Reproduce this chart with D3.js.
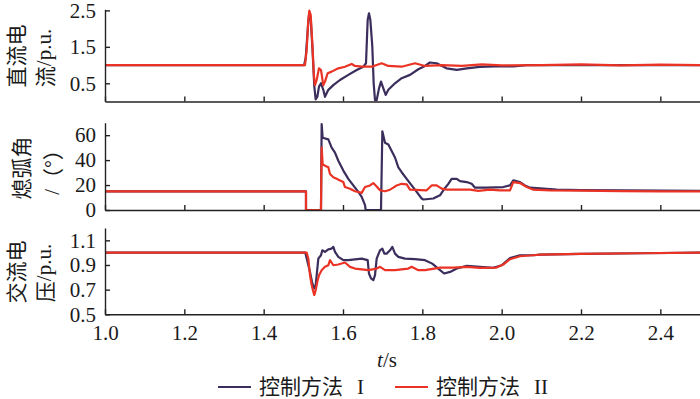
<!DOCTYPE html>
<html>
<head>
<meta charset="utf-8">
<script src="https://cdn.jsdelivr.net/npm/d3@7"></script>
<style>
body { margin: 0; background: #fff; }
svg text { font-family: "Liberation Serif", "Times New Roman", serif; fill: #1a1a1a; }
.cjk { font-family: "Noto Sans CJK SC", sans-serif; }
</style>
</head>
<body>
<svg id="chart" width="700" height="399"></svg>
<script>
// time ticks
var timeTicks = [1.0, 1.2, 1.4, 1.6, 1.8, 2.0, 2.2, 2.4];

// DC current (p.u.)
var dcCurrentI = [[1.0,1.0],[1.502,1.0],[1.506,1.2],[1.5126,2.2],[1.5151,2.42],[1.5185,2.3],[1.5227,1.51],[1.5277,0.41],[1.5311,0.06],[1.5353,0.13],[1.5395,0.41],[1.5445,0.50],[1.5504,0.32],[1.5546,0.13],[1.5630,0.32],[1.5756,0.45],[1.5924,0.59],[1.6134,0.73],[1.6345,0.865],[1.6513,0.955],[1.6580,1.05],[1.6622,2.24],[1.6655,2.42],[1.6689,2.24],[1.6739,1.51],[1.6773,0.50],[1.6807,0.04],[1.6849,0.04],[1.6908,0.36],[1.6958,0.545],[1.7017,0.36],[1.7076,0.18],[1.7143,0.32],[1.7311,0.50],[1.7479,0.64],[1.7689,0.73],[1.7899,0.885],[1.8067,0.975],[1.819,1.07],[1.836,1.05],[1.861,0.91],[1.887,0.87],[1.912,0.91],[1.945,0.95],[2.0,0.97],[2.03,0.96],[2.063,1.0],[2.2,1.0],[2.5,1.0]];
var dcCurrentII = [[1.0,1.0],[1.5042,1.0],[1.5084,1.415],[1.5126,2.24],[1.5151,2.495],[1.5185,2.376],[1.5227,1.60],[1.5269,0.68],[1.5294,0.45],[1.5336,0.59],[1.5395,0.91],[1.5445,0.865],[1.5504,0.45],[1.5546,0.545],[1.5613,0.775],[1.5714,0.82],[1.5882,0.91],[1.6050,0.955],[1.6218,1.03],[1.6303,0.975],[1.6471,0.955],[1.6723,0.955],[1.6975,1.05],[1.7143,0.975],[1.7479,0.955],[1.7815,1.05],[1.8067,0.975],[1.85,1.0],[1.9,0.98],[1.95,1.02],[2.0,0.99],[2.1,1.0],[2.2,1.02],[2.3,0.99],[2.4,1.01],[2.5,1.0]];

// extinction angle (deg)
var gammaI = [[1.0,15],[1.5067,15],[1.5067,0],[1.5445,0],[1.5462,68.9],[1.5487,57.9],[1.5630,56.6],[1.5714,50],[1.5798,46],[1.5882,39.5],[1.6008,31.6],[1.6134,25],[1.6260,19.7],[1.6387,14.5],[1.6471,10.5],[1.6555,3.9],[1.6572,0],[1.6958,0],[1.6992,63.1],[1.7059,53.9],[1.7143,52.6],[1.7227,47.4],[1.7311,42.1],[1.7395,34.2],[1.7479,30.3],[1.7605,25],[1.7731,19.7],[1.7857,14.5],[1.7983,9.2],[1.8025,8.4],[1.8277,9.2],[1.8445,11.8],[1.8529,15.8],[1.8655,21.0],[1.8739,25.0],[1.8866,25.0],[1.8950,23.1],[1.9118,22.4],[1.9244,21.0],[1.9328,17.9],[1.9622,17.9],[2.0042,18.4],[2.0210,19.7],[2.0294,23.7],[2.0462,22.4],[2.0588,19.7],[2.0714,17.9],[2.1050,17.1],[2.1387,16.3],[2.2,16.0],[2.3,15.8],[2.4,15.5],[2.5,15.3]];
var gammaII = [[1.0,15],[1.5067,15],[1.5067,0],[1.5445,0],[1.5462,50],[1.5487,36.8],[1.5546,35.5],[1.5630,34.2],[1.5672,28.9],[1.5756,26.3],[1.5840,25.0],[1.5924,23.7],[1.6008,22.4],[1.6050,18.4],[1.6176,17.1],[1.6303,15.0],[1.6471,13.7],[1.6555,18.4],[1.6681,19.7],[1.6765,21.6],[1.6849,18.9],[1.6933,15.8],[1.7059,15.0],[1.7185,16.3],[1.7269,17.9],[1.7353,19.7],[1.7479,21.0],[1.7605,20.5],[1.7689,16.3],[1.8109,15.8],[1.8235,19.7],[1.8361,19.7],[1.8487,17.1],[1.8613,16.3],[1.9202,16.3],[1.9412,15.3],[1.9706,16.3],[1.9958,15.8],[2.0210,15.8],[2.0294,22.4],[2.0462,21.6],[2.0630,18.4],[2.0798,16.3],[2.1218,15.8],[2.2,15.5],[2.3,15.2],[2.4,15.0],[2.5,15.0]];

// AC voltage (p.u.)
var acVoltageI = [[1.0,1.0],[1.505,1.0],[1.5168,0.844],[1.5227,0.75],[1.5277,0.71],[1.5311,0.737],[1.5345,0.844],[1.5378,0.952],[1.5445,0.979],[1.5479,1.019],[1.5546,1.006],[1.5630,1.027],[1.5714,1.033],[1.5756,1.047],[1.5798,1.006],[1.5882,0.966],[1.6008,0.939],[1.6134,0.939],[1.6471,0.952],[1.6622,0.939],[1.6655,0.831],[1.6706,0.791],[1.6765,0.777],[1.6807,0.817],[1.6849,0.952],[1.6933,1.019],[1.6992,1.033],[1.7042,0.992],[1.7101,0.992],[1.7185,1.019],[1.7244,1.047],[1.7311,0.992],[1.7395,0.966],[1.7563,0.952],[1.7815,0.947],[1.8067,0.939],[1.825,0.911],[1.84,0.871],[1.855,0.831],[1.870,0.844],[1.887,0.871],[1.912,0.893],[1.945,0.885],[1.979,0.877],[2.0,0.898],[2.021,0.957],[2.046,0.979],[2.08,0.979],[2.097,0.984],[2.2,0.99],[2.35,0.995],[2.5,1.0]];
var acVoltageII = [[1.0,1.0],[1.5084,1.0],[1.5126,0.952],[1.5168,0.817],[1.5210,0.737],[1.5252,0.683],[1.5277,0.656],[1.5311,0.696],[1.5353,0.764],[1.5395,0.817],[1.5462,0.858],[1.5546,0.885],[1.5630,0.898],[1.5672,0.939],[1.5756,0.898],[1.5882,0.904],[1.6050,0.920],[1.6176,0.885],[1.6303,0.871],[1.6639,0.858],[1.6849,0.871],[1.6933,0.885],[1.7059,0.858],[1.7311,0.858],[1.7647,0.871],[1.7731,0.885],[1.7899,0.858],[1.8067,0.858],[1.845,0.879],[1.878,0.879],[1.912,0.884],[1.945,0.876],[1.987,0.879],[2.004,0.903],[2.021,0.947],[2.046,0.971],[2.08,0.979],[2.097,0.984],[2.2,0.99],[2.35,0.995],[2.5,1.0]];

var dcTicks = [0.5, 1.5, 2.5];
var gammaTicks = [0, 20, 40, 60];
var acTicks = [0.5, 0.7, 0.9, 1.1];

var seriesNames = ["控制方法", "控制方法"];
var seriesNums = ["I", "II"];
var colors = ["#3b2d5c", "#ea3324"];

var svg = d3.select("#chart");

var x = d3.scaleLinear().domain([1.0, 2.5]).range([105, 700]);

var panels = [
  { domain: [0, 2.53], range: [101.5, 9.3], ticks: dcTicks, fmt: d3.format(".1f"),
    series: [dcCurrentI, dcCurrentII],
    labels: [{ x: 15, y: 56, parts: [["直流电", "cjk"]] },
             { x: 44, y: 58, parts: [["流", "cjk"], ["/p.u.", ""]] }] },
  { domain: [0, 70], range: [210, 122.7], ticks: gammaTicks, fmt: d3.format("d"),
    series: [gammaI, gammaII],
    labels: [{ x: 20, y: 168, parts: [["熄弧角", "cjk"]] },
             { x: 52, y: 167, parts: [["/", ""], ["（°）", "cjk"]] }] },
  { domain: [0.5, 1.2], range: [314.3, 228], ticks: acTicks, fmt: d3.format(".1f"),
    series: [acVoltageI, acVoltageII], xlabels: true,
    labels: [{ x: 15, y: 272, parts: [["交流电", "cjk"]] },
             { x: 44, y: 273, parts: [["压", "cjk"], ["/p.u.", ""]] }] }
];

panels.forEach(function(p) {
  var y = d3.scaleLinear().domain(p.domain).range(p.range);
  var g = svg.append("g");

  var line = d3.line()
    .x(function(d) { return x(d[0]); })
    .y(function(d) { return y(d[1]); });

  p.series.forEach(function(s, i) {
    g.append("path")
      .datum(s)
      .attr("d", line)
      .attr("fill", "none")
      .attr("stroke", colors[i])
      .attr("stroke-width", 2.2)
      .attr("stroke-linejoin", "round");
  });

  var yAxis = g.append("g")
    .attr("transform", "translate(105,0)")
    .call(d3.axisLeft(y).tickValues(p.ticks).tickFormat(p.fmt)
      .tickSize(-5).tickSizeOuter(0).tickPadding(9));

  var xAxis = g.append("g")
    .attr("transform", "translate(0," + p.range[0] + ")")
    .call(d3.axisBottom(x).tickValues(timeTicks)
      .tickFormat(p.xlabels ? d3.format(".1f") : "")
      .tickSize(-5).tickSizeOuter(0).tickPadding(11));

  [yAxis, xAxis].forEach(function(a) {
    a.selectAll("path, line").attr("stroke", "#222").attr("stroke-width", 1.4);
    a.selectAll("text").attr("font-size", 21).attr("fill", "#1a1a1a")
      .style("font-family", "'Liberation Serif', 'Times New Roman', serif");
  });

  p.labels.forEach(function(l) {
    var t = g.append("text")
      .attr("transform", "translate(" + l.x + "," + l.y + ") rotate(-90)")
      .attr("text-anchor", "middle")
      .attr("dominant-baseline", "central")
      .attr("font-size", 21);
    l.parts.forEach(function(pt) {
      t.append("tspan").attr("class", pt[1]).text(pt[0]);
    });
  });
});

// x axis title
var xt = svg.append("text")
  .attr("x", 387).attr("y", 367)
  .attr("text-anchor", "middle")
  .attr("font-size", 21);
xt.append("tspan").attr("font-style", "italic").text("t");
xt.append("tspan").text("/s");

// legend
var legendX = [218, 395];
seriesNames.forEach(function(name, i) {
  var lg = svg.append("g").attr("transform", "translate(" + legendX[i] + ",0)");
  lg.append("line")
    .attr("x1", 0).attr("x2", 33)
    .attr("y1", 387).attr("y2", 387)
    .attr("stroke", colors[i]).attr("stroke-width", 2);
  var t = lg.append("text").attr("x", 41).attr("y", 394).attr("font-size", 21);
  t.append("tspan").attr("class", "cjk").text(name);
  t.append("tspan").attr("dx", 14).text(seriesNums[i]);
});
</script>
</body>
</html>
